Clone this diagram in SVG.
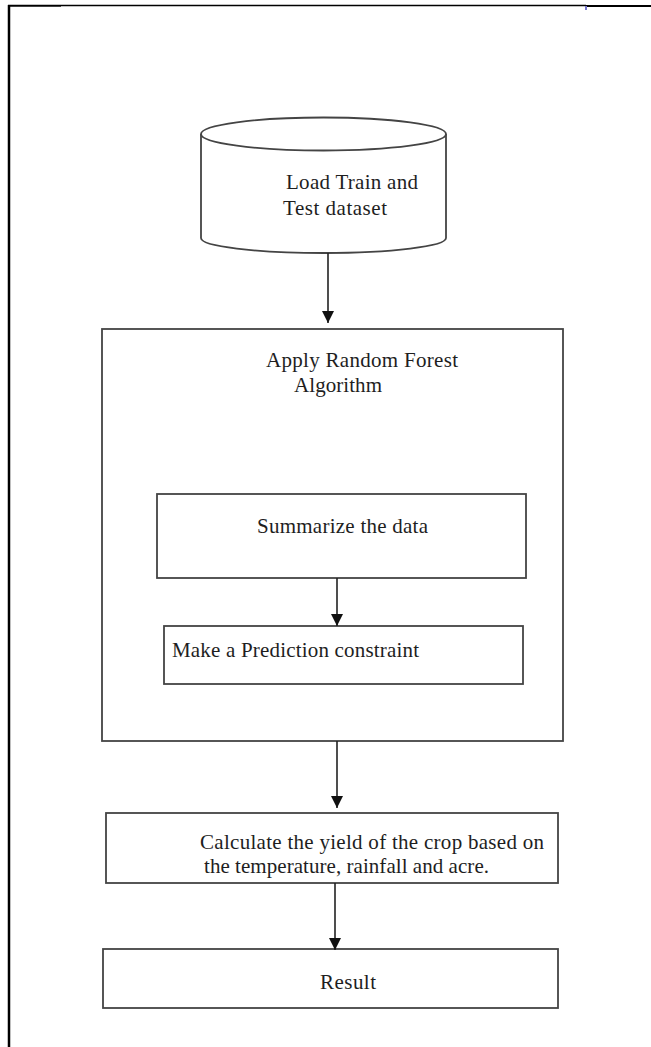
<svg xmlns="http://www.w3.org/2000/svg" width="651" height="1047" viewBox="0 0 651 1047">
<style>
.box{fill:#fff;stroke:#444;stroke-width:1.8}
.t{font-family:"Liberation Serif","Times New Roman",serif;font-size:21px;fill:#1e1e1e}
.c{stroke:#222;stroke-width:1.6;fill:none}
.frame{stroke:#000;fill:none}
</style>
<defs>
<marker id="ah" markerWidth="12" markerHeight="12" refX="12" refY="6" orient="auto" markerUnits="userSpaceOnUse">
<path d="M0,0 L12,6 L0,12 Z" fill="#111"/>
</marker>
</defs>
<rect width="651" height="1047" fill="#fff"/>
<g id="frame">
<line class="frame" x1="9" y1="5" x2="9" y2="1047" stroke-width="2.5"/>
<line class="frame" x1="8" y1="5.8" x2="61" y2="5.8" stroke-width="2"/>
<line class="frame" x1="61" y1="5.5" x2="586" y2="5.5" stroke-width="1.3"/>
<line class="frame" x1="586" y1="6" x2="651" y2="6" stroke-width="2.2"/>
<rect x="585" y="6" width="2" height="4" fill="#7777cc"/>
</g>
<g id="node-dataset">
<path class="box" d="M201,134 L201,238 A122.5,15 0 0 0 446,238 L446,134"/>
<ellipse class="box" cx="323.5" cy="134" rx="122.5" ry="16.5"/>
<text class="t" x="286" y="189" textLength="132">Load Train and</text>
<text class="t" x="283" y="215" textLength="104">Test dataset</text>
</g>
<g id="node-rf">
<rect class="box" x="102" y="329" width="461" height="412"/>
<text class="t" x="266" y="367" textLength="192">Apply Random Forest</text>
<text class="t" x="294" y="392" textLength="88">Algorithm</text>
</g>
<g id="node-summarize">
<rect class="box" x="157" y="494" width="369" height="84"/>
<text class="t" x="257" y="533" textLength="171">Summarize the data</text>
</g>
<g id="node-predict">
<rect class="box" x="164" y="626" width="359" height="58"/>
<text class="t" x="172" y="657" textLength="247">Make a Prediction constraint</text>
</g>
<g id="node-calc">
<rect class="box" x="106" y="813" width="452" height="70"/>
<text class="t" x="200" y="849" textLength="344">Calculate the yield of the crop based on</text>
<text class="t" x="204" y="873" textLength="285">the temperature, rainfall and acre.</text>
</g>
<g id="node-result">
<rect class="box" x="103" y="949" width="455" height="59"/>
<text class="t" x="320" y="989" textLength="56">Result</text>
</g>
<g id="connectors">
<line class="c" x1="328" y1="253" x2="328" y2="323" marker-end="url(#ah)"/>
<line class="c" x1="337" y1="578" x2="337" y2="626" marker-end="url(#ah)"/>
<line class="c" x1="337" y1="741" x2="337" y2="808" marker-end="url(#ah)"/>
<line class="c" x1="335" y1="883" x2="335" y2="950" marker-end="url(#ah)"/>
</g>
</svg>
